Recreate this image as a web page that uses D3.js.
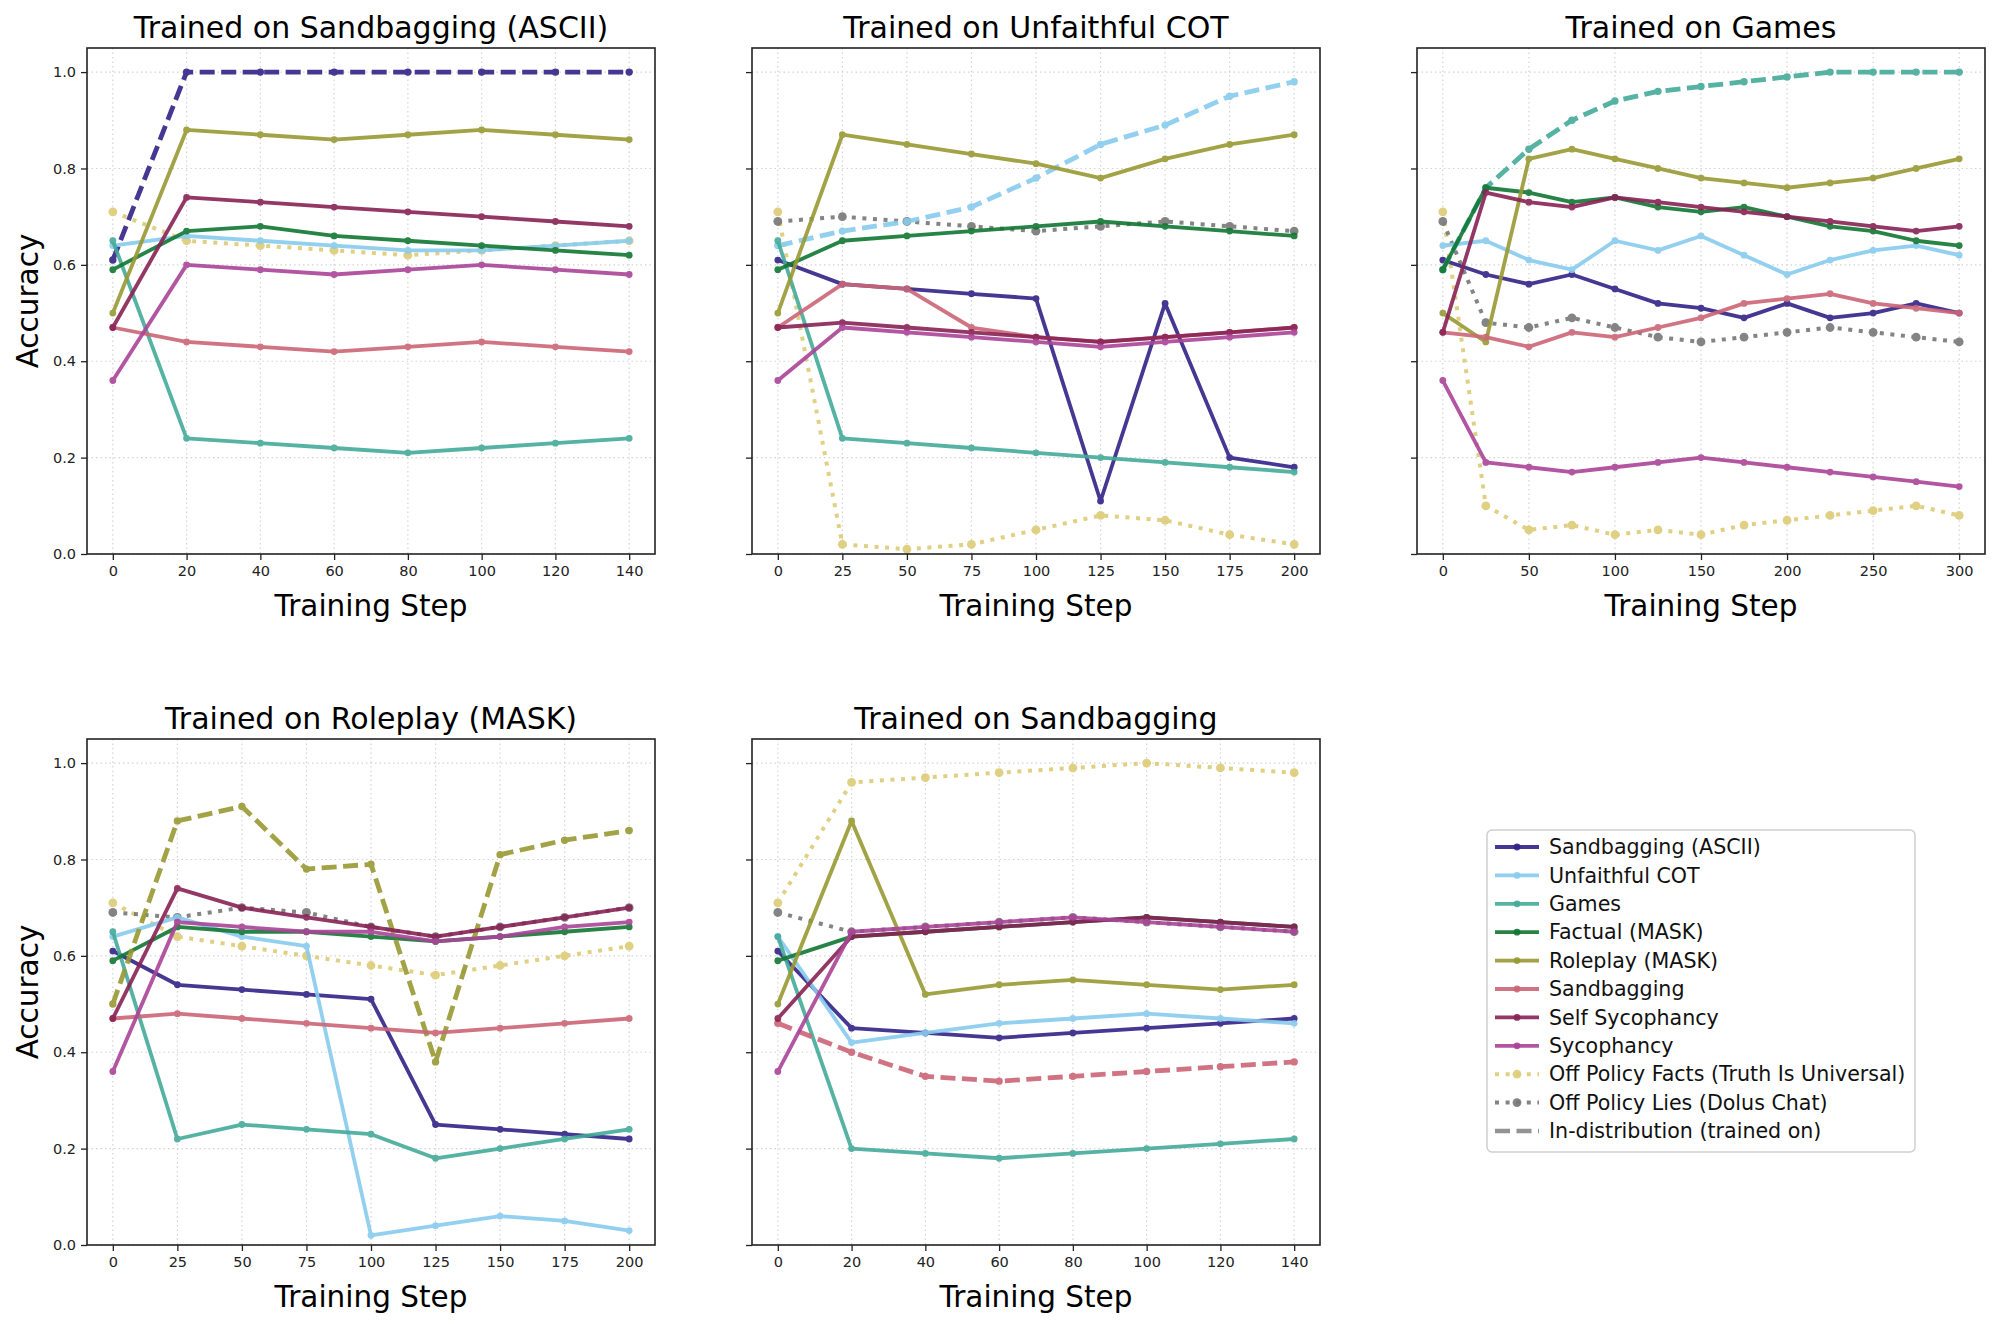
<!DOCTYPE html>
<html>
<head>
<meta charset="utf-8">
<script src="https://cdn.jsdelivr.net/npm/d3@7"></script>
<style>
  html, body { margin: 0; padding: 0; background: #fff; }
  svg { display: block; font-family: "DejaVu Sans", sans-serif; }
</style>
</head>
<body>
<div id="chart"></div>
<script>
// Series (legend order)
const seriesNames = [
  "Sandbagging (ASCII)", "Unfaithful COT", "Games", "Factual (MASK)", "Roleplay (MASK)",
  "Sandbagging", "Self Sycophancy", "Sycophancy",
  "Off Policy Facts (Truth Is Universal)", "Off Policy Lies (Dolus Chat)"
];
const seriesColors = [
  "#332288", "#88CCEE", "#44AA99", "#117733", "#999933",
  "#CC6677", "#882255", "#AA4499", "#DDCC77", "#777777"
];

// Training steps / x ticks
const steps20 = [0, 20, 40, 60, 80, 100, 120, 140];
const steps25 = [0, 25, 50, 75, 100, 125, 150, 175, 200];
const stepsGames = [0, 25, 50, 75, 100, 125, 150, 175, 200, 225, 250, 275, 300];
const ticksGames = [0, 50, 100, 150, 200, 250, 300];
const yTicks = [0, 0.2, 0.4, 0.6, 0.8, 1.0];

// Accuracy values, rows in series order (null = not plotted)
const valsSandbaggingASCII = [
  [0.61, 1.00, 1.00, 1.00, 1.00, 1.00, 1.00, 1.00],
  [0.64, 0.66, 0.65, 0.64, 0.63, 0.63, 0.64, 0.65],
  [0.65, 0.24, 0.23, 0.22, 0.21, 0.22, 0.23, 0.24],
  [0.59, 0.67, 0.68, 0.66, 0.65, 0.64, 0.63, 0.62],
  [0.50, 0.88, 0.87, 0.86, 0.87, 0.88, 0.87, 0.86],
  [0.47, 0.44, 0.43, 0.42, 0.43, 0.44, 0.43, 0.42],
  [0.47, 0.74, 0.73, 0.72, 0.71, 0.70, 0.69, 0.68],
  [0.36, 0.60, 0.59, 0.58, 0.59, 0.60, 0.59, 0.58],
  [0.71, 0.65, 0.64, 0.63, 0.62, 0.63, 0.64, 0.65],
  null
];
const valsUnfaithfulCOT = [
  [0.61, 0.56, 0.55, 0.54, 0.53, 0.11, 0.52, 0.20, 0.18],
  [0.64, 0.67, 0.69, 0.72, 0.78, 0.85, 0.89, 0.95, 0.98],
  [0.65, 0.24, 0.23, 0.22, 0.21, 0.20, 0.19, 0.18, 0.17],
  [0.59, 0.65, 0.66, 0.67, 0.68, 0.69, 0.68, 0.67, 0.66],
  [0.50, 0.87, 0.85, 0.83, 0.81, 0.78, 0.82, 0.85, 0.87],
  [0.47, 0.56, 0.55, 0.47, 0.45, 0.44, 0.45, 0.46, 0.47],
  [0.47, 0.48, 0.47, 0.46, 0.45, 0.44, 0.45, 0.46, 0.47],
  [0.36, 0.47, 0.46, 0.45, 0.44, 0.43, 0.44, 0.45, 0.46],
  [0.71, 0.02, 0.01, 0.02, 0.05, 0.08, 0.07, 0.04, 0.02],
  [0.69, 0.70, 0.69, 0.68, 0.67, 0.68, 0.69, 0.68, 0.67]
];
const valsGames = [
  [0.61, 0.58, 0.56, 0.58, 0.55, 0.52, 0.51, 0.49, 0.52, 0.49, 0.50, 0.52, 0.50],
  [0.64, 0.65, 0.61, 0.59, 0.65, 0.63, 0.66, 0.62, 0.58, 0.61, 0.63, 0.64, 0.62],
  [0.59, 0.76, 0.84, 0.90, 0.94, 0.96, 0.97, 0.98, 0.99, 1.00, 1.00, 1.00, 1.00],
  [0.59, 0.76, 0.75, 0.73, 0.74, 0.72, 0.71, 0.72, 0.70, 0.68, 0.67, 0.65, 0.64],
  [0.50, 0.44, 0.82, 0.84, 0.82, 0.80, 0.78, 0.77, 0.76, 0.77, 0.78, 0.80, 0.82],
  [0.46, 0.45, 0.43, 0.46, 0.45, 0.47, 0.49, 0.52, 0.53, 0.54, 0.52, 0.51, 0.50],
  [0.46, 0.75, 0.73, 0.72, 0.74, 0.73, 0.72, 0.71, 0.70, 0.69, 0.68, 0.67, 0.68],
  [0.36, 0.19, 0.18, 0.17, 0.18, 0.19, 0.20, 0.19, 0.18, 0.17, 0.16, 0.15, 0.14],
  [0.71, 0.10, 0.05, 0.06, 0.04, 0.05, 0.04, 0.06, 0.07, 0.08, 0.09, 0.10, 0.08],
  [0.69, 0.48, 0.47, 0.49, 0.47, 0.45, 0.44, 0.45, 0.46, 0.47, 0.46, 0.45, 0.44]
];
const valsRoleplay = [
  [0.61, 0.54, 0.53, 0.52, 0.51, 0.25, 0.24, 0.23, 0.22],
  [0.64, 0.68, 0.64, 0.62, 0.02, 0.04, 0.06, 0.05, 0.03],
  [0.65, 0.22, 0.25, 0.24, 0.23, 0.18, 0.20, 0.22, 0.24],
  [0.59, 0.66, 0.65, 0.65, 0.64, 0.63, 0.64, 0.65, 0.66],
  [0.50, 0.88, 0.91, 0.78, 0.79, 0.38, 0.81, 0.84, 0.86],
  [0.47, 0.48, 0.47, 0.46, 0.45, 0.44, 0.45, 0.46, 0.47],
  [0.47, 0.74, 0.70, 0.68, 0.66, 0.64, 0.66, 0.68, 0.70],
  [0.36, 0.67, 0.66, 0.65, 0.65, 0.63, 0.64, 0.66, 0.67],
  [0.71, 0.64, 0.62, 0.60, 0.58, 0.56, 0.58, 0.60, 0.62],
  [0.69, 0.68, 0.70, 0.69, 0.66, 0.64, 0.66, 0.68, 0.70]
];
const valsSandbagging = [
  [0.61, 0.45, 0.44, 0.43, 0.44, 0.45, 0.46, 0.47],
  [0.64, 0.42, 0.44, 0.46, 0.47, 0.48, 0.47, 0.46],
  [0.64, 0.20, 0.19, 0.18, 0.19, 0.20, 0.21, 0.22],
  [0.59, 0.64, 0.65, 0.66, 0.67, 0.68, 0.67, 0.66],
  [0.50, 0.88, 0.52, 0.54, 0.55, 0.54, 0.53, 0.54],
  [0.46, 0.40, 0.35, 0.34, 0.35, 0.36, 0.37, 0.38],
  [0.47, 0.64, 0.65, 0.66, 0.67, 0.68, 0.67, 0.66],
  [0.36, 0.65, 0.66, 0.67, 0.68, 0.67, 0.66, 0.65],
  [0.71, 0.96, 0.97, 0.98, 0.99, 1.00, 0.99, 0.98],
  [0.69, 0.65, 0.66, 0.67, 0.68, 0.67, 0.66, 0.65]
];

const panels = [
  { title: "Trained on Sandbagging (ASCII)", steps: steps20, ticks: steps20, vals: valsSandbaggingASCII, trained: 0, row: 0, col: 0 },
  { title: "Trained on Unfaithful COT", steps: steps25, ticks: steps25, vals: valsUnfaithfulCOT, trained: 1, row: 0, col: 1 },
  { title: "Trained on Games", steps: stepsGames, ticks: ticksGames, vals: valsGames, trained: 2, row: 0, col: 2 },
  { title: "Trained on Roleplay (MASK)", steps: steps25, ticks: steps25, vals: valsRoleplay, trained: 4, row: 1, col: 0 },
  { title: "Trained on Sandbagging", steps: steps20, ticks: steps20, vals: valsSandbagging, trained: 5, row: 1, col: 1 }
];

// Layout
const W = 1999, H = 1324;
const colLeft = [87, 752, 1417];
const rowTop = [48, 739];
const pw = 568, ph = 506;

const svg = d3.select("#chart").append("svg")
  .attr("width", W).attr("height", H)
  .attr("viewBox", `0 0 ${W} ${H}`);
svg.append("rect").attr("width", W).attr("height", H).attr("fill", "#fff");

// off-policy drawn underneath, then task series
const drawOrder = [8, 9, 0, 1, 2, 3, 4, 5, 6, 7];

function lineStyle(i, trained) {
  if (i === trained) return { width: 4.8, dash: "15,6.5", cap: "butt", r: 3.7 };
  if (i >= 8) return { width: 4, dash: "4,6.6", cap: "butt", r: 4.4 };
  return { width: 3.8, dash: null, cap: "round", r: 3.4 };
}

panels.forEach(p => {
  const x0 = colLeft[p.col], y0 = rowTop[p.row];
  const ext = d3.extent(p.steps);
  const pad = (ext[1] - ext[0]) * 0.05;
  const x = d3.scaleLinear().domain([ext[0] - pad, ext[1] + pad]).range([x0, x0 + pw]);
  const y = d3.scaleLinear().domain([0, 1.05]).range([y0 + ph, y0]);

  const g = svg.append("g");

  // grid
  g.append("g").selectAll("line").data(yTicks).join("line")
    .attr("x1", x0).attr("x2", x0 + pw)
    .attr("y1", d => y(d)).attr("y2", d => y(d))
    .attr("stroke", "#d4d4d4").attr("stroke-width", 1.2).attr("stroke-dasharray", "1.5,3");
  g.append("g").selectAll("line").data(p.ticks).join("line")
    .attr("y1", y0).attr("y2", y0 + ph)
    .attr("x1", d => x(d)).attr("x2", d => x(d))
    .attr("stroke", "#d4d4d4").attr("stroke-width", 1.2).attr("stroke-dasharray", "1.5,3");

  // series
  const line = d3.line().x(d => x(d[0])).y(d => y(d[1]));
  drawOrder.forEach(i => {
    const v = p.vals[i];
    if (!v) return;
    const pts = p.steps.map((s, k) => [s, v[k]]);
    const st = lineStyle(i, p.trained);
    const sg = g.append("g").attr("opacity", 0.9);
    sg.append("path").datum(pts)
      .attr("d", line)
      .attr("fill", "none")
      .attr("stroke", seriesColors[i])
      .attr("stroke-width", st.width)
      .attr("stroke-linejoin", "round")
      .attr("stroke-linecap", st.cap)
      .attr("stroke-dasharray", st.dash);
    sg.selectAll("circle").data(pts).join("circle")
      .attr("cx", d => x(d[0])).attr("cy", d => y(d[1]))
      .attr("r", st.r).attr("fill", seriesColors[i]);
  });

  // axes
  const xAxis = d3.axisBottom(x).tickValues(p.ticks).tickSize(6).tickPadding(6).tickFormat(d3.format("d"));
  const xg = g.append("g").attr("transform", `translate(0,${y0 + ph})`).call(xAxis);
  const yAxis = d3.axisLeft(y).tickValues(yTicks).tickSize(6).tickPadding(5)
    .tickFormat(p.col === 0 ? d3.format(".1f") : () => "");
  const yg = g.append("g").attr("transform", `translate(${x0},0)`).call(yAxis);
  [xg, yg].forEach(a => {
    a.select(".domain").remove();
    a.selectAll(".tick line").attr("stroke", "#222").attr("stroke-width", 1.3);
    a.selectAll(".tick text").attr("fill", "#222")
      .style("font-size", "14.5px").style("font-family", "DejaVu Sans, sans-serif");
  });

  // frame
  g.append("rect").attr("x", x0).attr("y", y0).attr("width", pw).attr("height", ph)
    .attr("fill", "none").attr("stroke", "#222").attr("stroke-width", 1.6);

  // labels
  g.append("text").attr("x", x0 + pw / 2).attr("y", y0 - 10)
    .attr("text-anchor", "middle").style("font-size", "30px").attr("fill", "#000")
    .text(p.title);
  g.append("text").attr("x", x0 + pw / 2).attr("y", y0 + ph + 62)
    .attr("text-anchor", "middle").style("font-size", "29.5px").attr("fill", "#000")
    .text("Training Step");
  if (p.col === 0) {
    g.append("text")
      .attr("transform", `translate(38,${y0 + ph / 2}) rotate(-90)`)
      .attr("text-anchor", "middle").style("font-size", "29.5px").attr("fill", "#000")
      .text("Accuracy");
  }
});

// Legend
const legendNames = seriesNames.concat(["In-distribution (trained on)"]);
const lg = svg.append("g").attr("transform", "translate(1487,830)");
lg.append("rect").attr("width", 428).attr("height", 322).attr("rx", 5)
  .attr("fill", "#fff").attr("stroke", "#cfcfcf").attr("stroke-width", 1.5);
legendNames.forEach((name, i) => {
  const yy = 17 + i * 28.4;
  const row = lg.append("g").attr("transform", `translate(0,${yy})`);
  let color, st;
  if (i === 10) {
    color = "#888888";
    st = { width: 4.6, dash: "15,6.5", cap: "butt", r: 0 };
  } else {
    color = seriesColors[i];
    st = lineStyle(i, -1);
  }
  row.append("line").attr("x1", 8).attr("x2", 52)
    .attr("stroke", color).attr("stroke-width", st.width)
    .attr("stroke-dasharray", st.dash).attr("stroke-linecap", "butt")
    .attr("opacity", 0.9);
  if (st.r > 0) {
    row.append("circle").attr("cx", 30).attr("r", st.r).attr("fill", color).attr("opacity", 0.9);
  }
  row.append("text").attr("x", 62).attr("dy", "0.35em")
    .style("font-size", "20.6px").attr("fill", "#111").text(name);
});
</script>
</body>
</html>
